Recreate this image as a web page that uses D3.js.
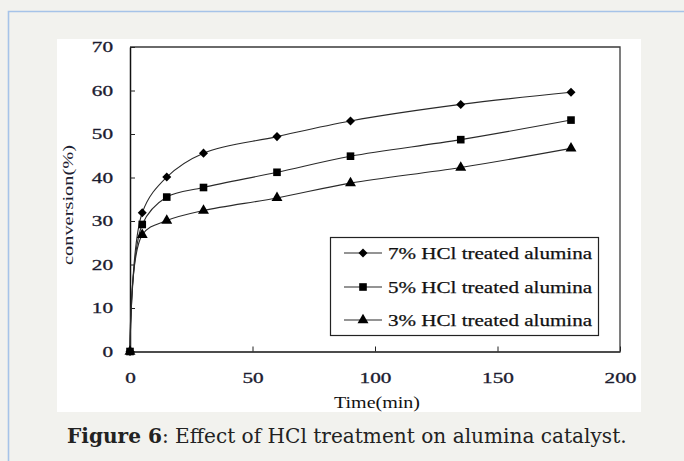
<!DOCTYPE html>
<html><head><meta charset="utf-8">
<script src="https://cdn.jsdelivr.net/npm/d3@7"></script>
<style>html,body{margin:0;padding:0;background:#f2f2ee;}svg{display:block;}</style>
</head><body>
<svg id="chart" width="684" height="461"></svg>
<script>
// ---- data ----
const times = [0, 5, 15, 30, 60, 90, 135, 180];
const series7 = [0, 31.9, 40.1, 45.6, 49.4, 53.0, 56.8, 59.6];
const series5 = [0, 29.2, 35.5, 37.7, 41.2, 44.9, 48.7, 53.2];
const series3 = [0, 26.8, 30.1, 32.4, 35.3, 38.7, 42.3, 46.7];
const seriesNames = ["7% HCl treated alumina", "5% HCl treated alumina", "3% HCl treated alumina"];
const xTicks = [0, 50, 100, 150, 200];
const yTicks = [0, 10, 20, 30, 40, 50, 60, 70];
const xTitle = "Time(min)";
const yTitle = "conversion(%)";
const captionBold = "Figure 6";
const captionRest = ": Effect of HCl treatment on alumina catalyst.";

const svg = d3.select("#chart");
// page frame
svg.append("rect").attr("x",0).attr("y",0).attr("width",684).attr("height",461).attr("fill","#f2f2ee");
svg.append("path").attr("d","M8.5,461 V11.5 H684").attr("fill","none").attr("stroke","#a6c3e8").attr("stroke-width",1.6);
svg.append("rect").attr("x",57).attr("y",39).attr("width",584).attr("height",373).attr("fill","#ffffff");

const x = d3.scaleLinear().domain([0,200]).range([130,620]);
const y = d3.scaleLinear().domain([0,70]).range([351.5,47]);

const serif = "'Liberation Serif','Times New Roman',serif";

// frame top/right
svg.append("path").attr("d",`M${x(0)},${y(70)} H${x(200)} V${y(0)}`).attr("fill","none").attr("stroke","#3a3a3a").attr("stroke-width",1.3);

const yAxis = svg.append("g").attr("transform",`translate(${x(0)},0)`)
  .call(d3.axisLeft(y).tickValues(yTicks).tickSizeInner(-5).tickSizeOuter(0).tickPadding(17).tickFormat(d3.format("d")));
const xAxis = svg.append("g").attr("transform",`translate(0,${y(0)})`)
  .call(d3.axisBottom(x).tickValues(xTicks).tickSizeInner(-5).tickSizeOuter(0).tickPadding(22).tickFormat(d3.format("d")));
[yAxis,xAxis].forEach(g=>{
  g.select(".domain").attr("stroke","#111").attr("stroke-width",1.5);
  g.selectAll(".tick line").attr("stroke","#222").attr("stroke-width",1);
  g.selectAll(".tick text").attr("font-family",serif).attr("font-size",14).attr("fill","#1c1c30")
    .attr("stroke","#1c1c30").attr("stroke-width",0.3)
    .each(function(){ const s=d3.select(this).text(); d3.select(this).attr("textLength",s.length*10.6).attr("lengthAdjust","spacingAndGlyphs"); });
});
yAxis.selectAll(".tick text").attr("dy","0.34em");

// axis titles
svg.append("text").attr("x",(x(0)+x(200))/2+2).attr("y",408).attr("text-anchor","middle")
  .attr("font-family",serif).attr("font-size",16).attr("fill","#111")
  .attr("textLength",86).attr("lengthAdjust","spacingAndGlyphs").text(xTitle);
svg.append("text").attr("transform","translate(73,205) rotate(-90)").attr("text-anchor","middle")
  .attr("font-family",serif).attr("font-size",15).attr("fill","#1c1c30")
  .attr("textLength",120).attr("lengthAdjust","spacingAndGlyphs").text(yTitle);

// series
const allSeries = [
  {name:seriesNames[0], values:series7, sym:d3.symbolDiamond2, size:52},
  {name:seriesNames[1], values:series5, sym:d3.symbolSquare, size:58},
  {name:seriesNames[2], values:series3, sym:d3.symbolTriangle, size:52}
];
const line = d3.line().x((d,i)=>x(times[i])).y(d=>y(d)).curve(d3.curveCatmullRom.alpha(0.5));
const drawOrder = [0,2,1];
drawOrder.forEach(k=>{
  const s = allSeries[k];
  svg.append("path").datum(s.values).attr("d",line).attr("fill","none").attr("stroke","#2a2a2a").attr("stroke-width",1.1);
});
drawOrder.forEach(k=>{
  const s = allSeries[k];
  svg.append("g").selectAll("path").data(s.values).join("path")
    .attr("transform",(d,i)=>`translate(${x(times[i])},${y(d)})`)
    .attr("d",d3.symbol().type(s.sym).size(s.size)).attr("fill","#000");
});

// legend
const lg = svg.append("g");
lg.append("rect").attr("x",330.5).attr("y",237.5).attr("width",268).attr("height",98).attr("fill","#fff").attr("stroke","#222").attr("stroke-width",1.2);
const rows = [253, 287, 320];
allSeries.forEach((s,i)=>{
  lg.append("line").attr("x1",344).attr("x2",382).attr("y1",rows[i]).attr("y2",rows[i]).attr("stroke","#2a2a2a").attr("stroke-width",1.1);
  lg.append("path").attr("transform",`translate(363,${rows[i]})`).attr("d",d3.symbol().type(s.sym).size(s.size)).attr("fill","#000");
  lg.append("text").attr("x",388).attr("y",rows[i]).attr("dy","0.35em").attr("font-family",serif).attr("font-size",16).attr("fill","#111")
    .attr("stroke","#111").attr("stroke-width",0.25)
    .attr("textLength",204).attr("lengthAdjust","spacingAndGlyphs").text(s.name);
});

// caption
const cap = svg.append("text").attr("x",67).attr("y",443).attr("font-family","'DejaVu Serif',serif").attr("font-size",18).attr("fill","#222");
cap.append("tspan").attr("font-weight","bold").text(captionBold);
cap.append("tspan").text(captionRest);
const w = cap.node().getComputedTextLength();
cap.attr("font-size", 18*560/w);
</script>
</body></html>
